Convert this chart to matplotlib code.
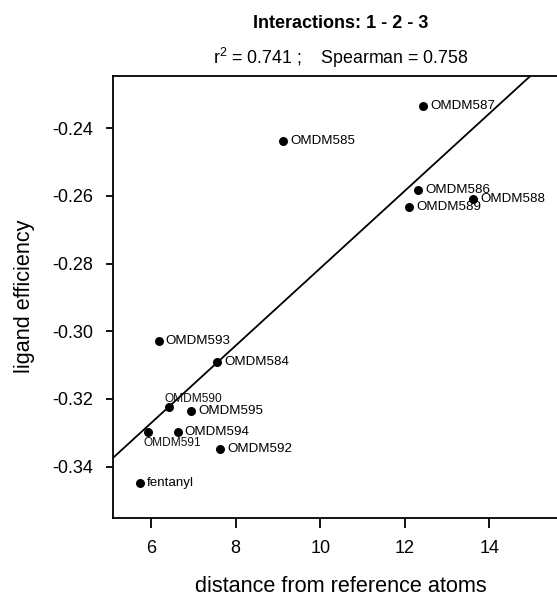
import matplotlib
matplotlib.use("Agg")
import matplotlib.pyplot as plt
import numpy as np

plt.rcParams['font.family'] = ['Liberation Sans', 'DejaVu Sans']
plt.rcParams['mathtext.fontset'] = 'custom'
plt.rcParams['mathtext.rm'] = 'Liberation Sans'
plt.rcParams['mathtext.it'] = 'Liberation Sans:italic'

# data
names = ["OMDM587", "OMDM585", "OMDM586", "OMDM589", "OMDM588", "OMDM593",
         "OMDM584", "OMDM590", "OMDM595", "OMDM591", "OMDM594", "OMDM592", "fentanyl"]
distance = [12.44, 9.13, 12.32, 12.11, 13.61, 6.18, 7.57, 6.42, 6.95, 5.94, 6.63, 7.64, 5.73]
efficiency = [-0.2334, -0.2439, -0.2583, -0.2632, -0.2609, -0.3028, -0.3090,
              -0.3223, -0.3236, -0.3297, -0.3298, -0.3349, -0.3447]
fit_intercept = -0.3958
fit_slope = 0.01144
x_ticks = [6, 8, 10, 12, 14]
y_ticks = [-0.24, -0.26, -0.28, -0.30, -0.32, -0.34]

W, H = 557, 596
fig = plt.figure(figsize=(W / 100, H / 100), dpi=100)
left, right, top, bottom = 113.3, 569.0, 75.7, 517.7
ax = fig.add_axes([left / W, 1 - bottom / H, (right - left) / W, (bottom - top) / H])
ax.set_xlim(5.11, 15.88)
ax.set_ylim(-0.3551, -0.2245)

for s in ax.spines.values():
    s.set_linewidth(1.3)
    s.set_color('black')

ax.scatter(distance, efficiency, s=42, color='black', zorder=3, linewidths=0)

xx = np.array(ax.get_xlim())
ax.plot(xx, fit_intercept + fit_slope * xx, color='black', lw=1.3, zorder=2)
ax.set_xlim(5.11, 15.88)

small = {"OMDM590": (-3.1, 5.5), "OMDM591": (-3.6, -8.1)}
for n, x, y in zip(names, distance, efficiency):
    if n in small:
        ax.annotate(n, (x, y), xytext=small[n], textcoords='offset points',
                    ha='left', va='center', fontsize=8.6, color='#111111')
    else:
        ax.annotate(n, (x, y), xytext=(5, 0), textcoords='offset points',
                    ha='left', va='center', fontsize=9.6, color='black')

ax.set_xticks(x_ticks)
ax.set_xticklabels([str(t) for t in x_ticks])
ax.set_yticks(y_ticks)
ax.set_yticklabels([f"{t:.2f}" for t in y_ticks])
ax.tick_params(axis='x', length=7.5, width=1.3, pad=8.5, labelsize=13)
ax.tick_params(axis='y', length=4.8, width=1.3, pad=9.4, labelsize=13)

cx = (left + right) / 2 / W
fig.text(cx, 1 - 23.3 / H, "Interactions: 1 - 2 - 3", ha='center', va='center',
         fontsize=13, fontweight='bold')
fig.text(cx, 1 - 57.5 / H, r"r$^{2}$ = 0.741 ;    Spearman = 0.758", ha='center',
         va='center', fontsize=12.8)
fig.text(cx, 1 - 587 / H, "distance from reference atoms", ha='center', va='center',
         fontsize=15.6)
fig.text(25 / W, 1 - ((top + bottom) / 2) / H, "ligand efficiency", ha='center',
         va='center', rotation=90, fontsize=15.6)

fig.savefig("out.png", dpi=100)
